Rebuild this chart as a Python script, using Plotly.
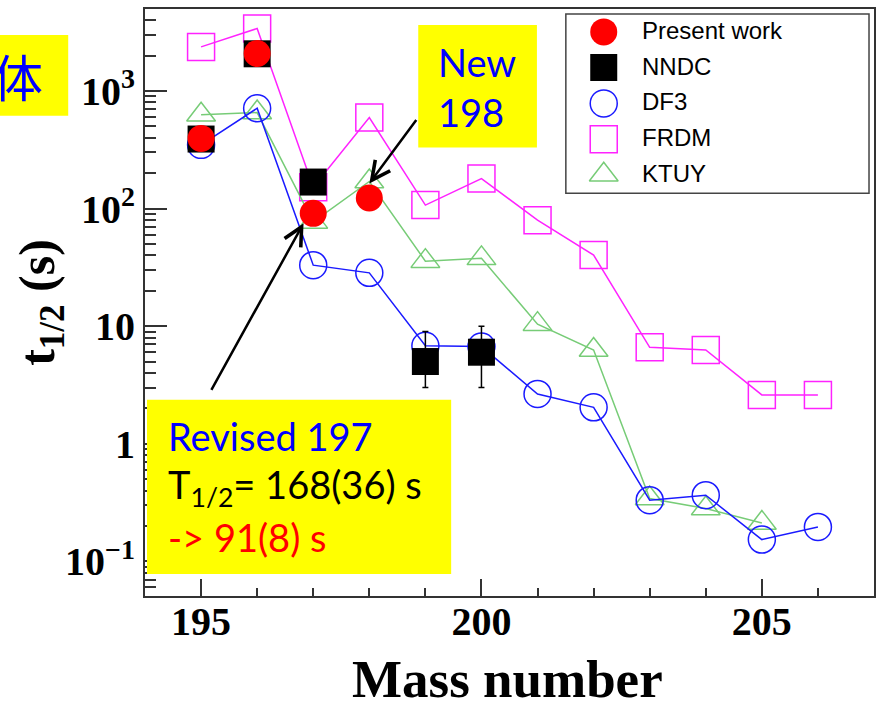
import plotly.graph_objects as go

# ---------------- data ----------------
mass_present = [195, 196, 197, 198]
t_present = [395, 2080, 91, 123]

mass_nndc = [195, 196, 197, 199, 200]
t_nndc = [390, 2070, 168, 5.0, 6.0]
err_nndc_plus = [0, 0, 36, 4.0, 4.0]
err_nndc_minus = [0, 0, 36, 2.0, 3.0]

mass_df3 = [195, 196, 197, 198, 199, 200, 201, 202, 203, 204, 205, 206]
t_df3 = [348, 713, 33, 28.4, 6.8, 6.7, 2.65, 2.04, 0.331, 0.365, 0.153, 0.196]

mass_frdm = [195, 196, 197, 198, 199, 200, 201, 202, 203, 204, 205, 206]
t_frdm = [2370, 3400, 152, 594, 107, 180, 79.6, 40.2, 6.6, 6.27, 2.6, 2.6]

mass_ktuy = [195, 196, 197, 198, 199, 200, 201, 202, 203, 204, 205]
t_ktuy = [627, 655, 77, 170, 35.7, 37.7, 10.4, 6.27, 0.342, 0.281, 0.212]

y_tick_vals = [0.1, 1, 10, 100, 1000]
y_tick_text = ["10<sup>\u22121</sup>", "1", "10", "10<sup>2</sup>", "10<sup>3</sup>"]
legend_names = ["Present work", "NNDC", "DF3", "FRDM", "KTUY"]

# ---------------- geometry helpers ----------------
W, H = 883, 702
L, R, T, B = 145, 7, 7, 106
PW, PH = W - L - R, H - T - B


def px(x):
    return (x - L) / PW


def py(y):
    return (H - B - y) / PH


BLUE = "#1a1aff"
MAGENTA = "#ff22ff"
GREEN = "#77cc77"
SERIF = "Liberation Serif"
SANS = "Liberation Sans"
TXT = "Lato"

fig = go.Figure()

fig.add_trace(go.Scatter(x=mass_frdm, y=t_frdm, mode="lines+markers",
                         line=dict(color=MAGENTA, width=1.5),
                         marker=dict(symbol="square-open", size=27, color=MAGENTA,
                                     line=dict(width=1.5, color=MAGENTA))))
fig.add_trace(go.Scatter(x=mass_ktuy, y=t_ktuy, mode="lines+markers",
                         line=dict(color=GREEN, width=1.5),
                         marker=dict(symbol="triangle-up-open", size=25, color=GREEN,
                                     line=dict(width=1.5, color=GREEN))))
fig.add_trace(go.Scatter(x=mass_df3, y=t_df3, mode="lines+markers",
                         line=dict(color=BLUE, width=1.5),
                         marker=dict(symbol="circle-open", size=27, color=BLUE,
                                     line=dict(width=1.5, color=BLUE))))
fig.add_trace(go.Scatter(x=mass_nndc, y=t_nndc, mode="markers",
                         marker=dict(symbol="square", size=27, color="black"),
                         error_y=dict(type="data", symmetric=False, array=err_nndc_plus,
                                      arrayminus=err_nndc_minus, color="black",
                                      thickness=1.5, width=3)))
fig.add_trace(go.Scatter(x=mass_present, y=t_present, mode="markers",
                         marker=dict(symbol="circle", size=27, color="red")))

# ---------------- custom legend (overlay axes in plot fractions) ----------------
leg_rows = [30, 65.7, 101.7, 137.7, 173.3]
leg_styles = [
    dict(symbol="circle", size=27, color="red"),
    dict(symbol="square", size=27, color="black"),
    dict(symbol="circle-open", size=27, color=BLUE, line=dict(width=1.5, color=BLUE)),
    dict(symbol="square-open", size=27, color=MAGENTA, line=dict(width=1.5, color=MAGENTA)),
    dict(symbol="triangle-up-open", size=25, color=GREEN, line=dict(width=1.5, color=GREEN)),
]
for row, st in zip(leg_rows, leg_styles):
    fig.add_trace(go.Scatter(x=[px(605)], y=[py(row)], mode="markers", marker=st,
                             xaxis="x2", yaxis="y2"))

shapes = [
    dict(type="rect", xref="paper", yref="paper", x0=px(567), x1=px(871), y0=py(192), y1=py(12),
         line=dict(color="#444", width=1.5), layer="above"),
    dict(type="rect", xref="paper", yref="paper", x0=px(-2), x1=px(68), y0=py(114), y1=py(33),
         fillcolor="#ffff00", line=dict(width=0), layer="above"),
    dict(type="rect", xref="paper", yref="paper", x0=px(419), x1=px(538), y0=py(146), y1=py(23),
         fillcolor="#ffff00", line=dict(width=0), layer="above"),
    dict(type="rect", xref="paper", yref="paper", x0=px(147), x1=px(452), y0=py(574), y1=py(399),
         fillcolor="#ffff00", line=dict(width=0), layer="above"),
]

ann = []
for row, name in zip(leg_rows, legend_names):
    ann.append(dict(x=px(641), y=py(row - 1.5), xref="paper", yref="paper", text=name, showarrow=False,
                    xanchor="left", yanchor="middle", font=dict(family=SANS, size=24, color="black")))

ann += [
    dict(x=px(45), y=py(73), xref="paper", yref="paper", text="体", showarrow=False,
         xanchor="right", yanchor="middle", font=dict(family="Noto Sans CJK SC", size=50, color="#0000ff")),
    dict(x=px(437), y=py(60), xref="paper", yref="paper", text="New", showarrow=False,
         xanchor="left", yanchor="middle", font=dict(family=TXT, size=38, color="#0000ff")),
    dict(x=px(437), y=py(110), xref="paper", yref="paper", text="198", showarrow=False,
         xanchor="left", yanchor="middle", font=dict(family=TXT, size=38, color="#0000ff")),
    dict(x=px(166), y=py(435.5), xref="paper", yref="paper", text="Revised 197", showarrow=False,
         xanchor="left", yanchor="middle", font=dict(family=TXT, size=38, color="#0000ff")),
    dict(x=px(166), y=py(487), xref="paper", yref="paper", text="T<sub>1/2</sub>= 168(36) s", showarrow=False,
         xanchor="left", yanchor="middle", font=dict(family=TXT, size=38, color="black")),
    dict(x=px(166), y=py(537), xref="paper", yref="paper", text="-&gt; 91(8) s", showarrow=False,
         xanchor="left", yanchor="middle", font=dict(family=TXT, size=38, color="#ff0000")),
    # arrows
    dict(x=px(370), y=py(182), xref="paper", yref="paper", text="", showarrow=True,
         ax=48, ay=-65, arrowhead=5, arrowsize=1.45, arrowwidth=2.5, arrowcolor="black", standoff=0),
    dict(x=px(304), y=py(222), xref="paper", yref="paper", text="", showarrow=True,
         ax=-93, ay=168, arrowhead=5, arrowsize=1.45, arrowwidth=2.5, arrowcolor="black", standoff=0),
    # axis titles
    dict(x=px(40), y=py(301.5), xref="paper", yref="paper", text="<b>t<sub>1/2</sub> (s)</b>",
         showarrow=False, textangle=-90, xanchor="center", yanchor="middle",
         font=dict(family=SERIF, size=50, color="black")),
    dict(x=px(508), y=py(679), xref="paper", yref="paper", text="<b>Mass number</b>",
         showarrow=False, xanchor="center", yanchor="middle",
         font=dict(family=SERIF, size=53, color="black")),
]

minor_y = [m * 10.0 ** e for e in range(-2, 4) for m in range(2, 10)]

fig.update_layout(
    width=W, height=H,
    margin=dict(l=L, r=R, t=T, b=B, pad=0),
    paper_bgcolor="white", plot_bgcolor="white",
    showlegend=False,
    shapes=shapes, annotations=ann,
    xaxis=dict(range=[194, 207], tickmode="linear", tick0=195, dtick=5,
               ticks="inside", ticklen=17, tickwidth=1.5, tickcolor="#333",
               ticklabelstandoff=-11,
               minor=dict(ticks="inside", ticklen=8, tickwidth=1.5, tickcolor="#333", dtick=1, tick0=194),
               showline=True, linecolor="#333", linewidth=2, mirror=True,
               showgrid=False, zeroline=False,
               tickfont=dict(family=SERIF, size=40, color="black", weight="bold")),
    yaxis=dict(type="log", range=[-1.295, 3.697], tickmode="array",
               tickvals=y_tick_vals, ticktext=y_tick_text,
               ticks="inside", ticklen=22, tickwidth=1.5, tickcolor="#333",
               minor=dict(ticks="inside", ticklen=11, tickwidth=1.5, tickcolor="#333",
                          tickmode="array", tickvals=minor_y),
               showline=True, linecolor="#333", linewidth=2, mirror=True,
               showgrid=False, zeroline=False,
               tickfont=dict(family=SERIF, size=40, color="black", weight="bold")),
    xaxis2=dict(overlaying="x", range=[0, 1], visible=False, showgrid=False, zeroline=False),
    yaxis2=dict(overlaying="y", range=[0, 1], visible=False, showgrid=False, zeroline=False),
)

fig.write_html("out.html")
